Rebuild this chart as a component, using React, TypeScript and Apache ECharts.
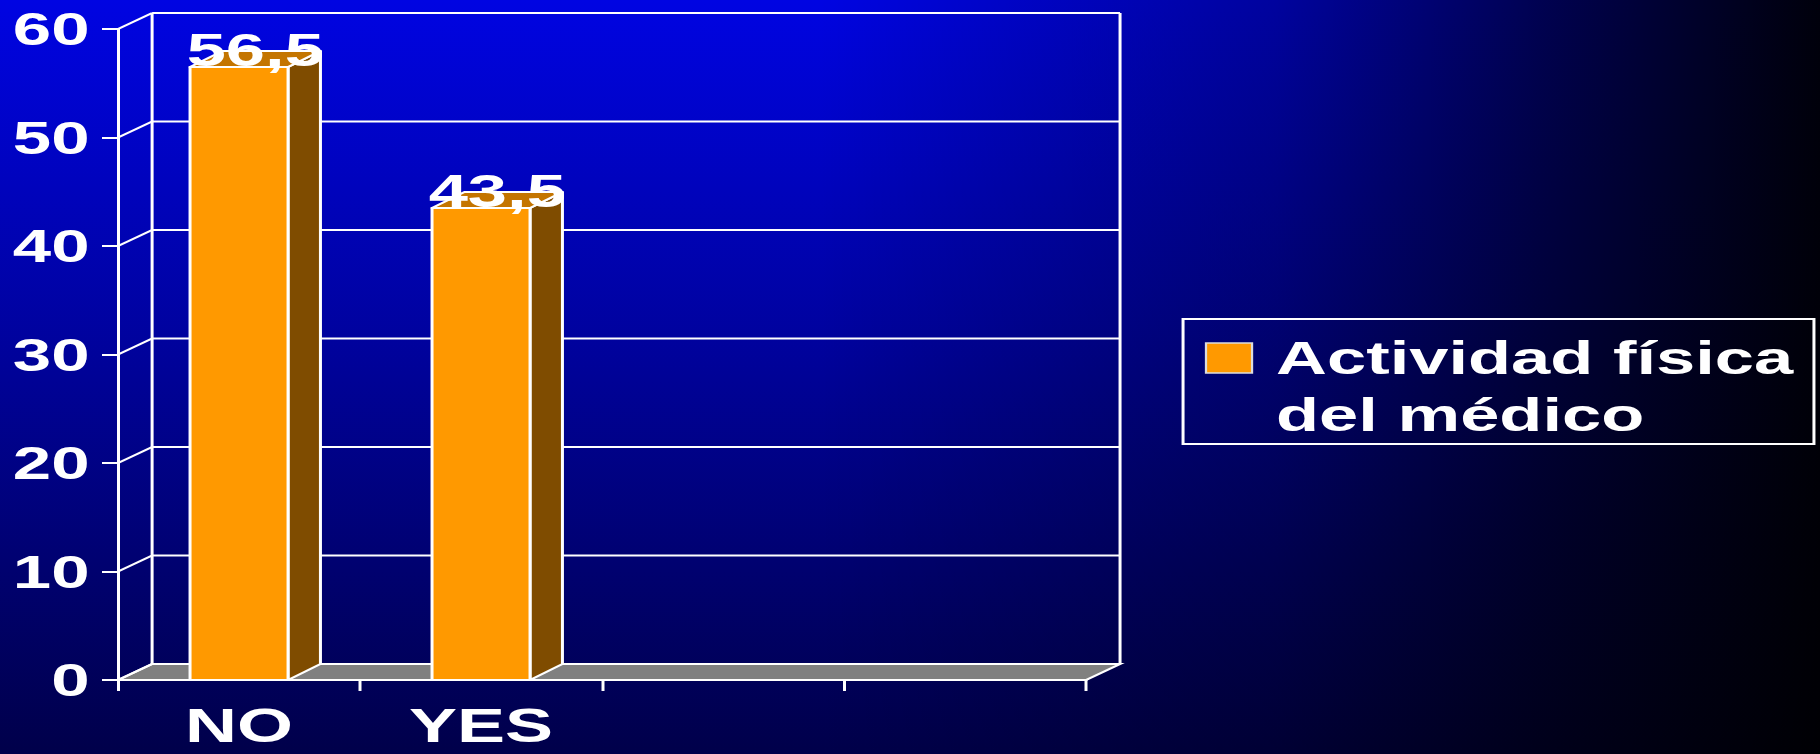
import React, { useEffect, useRef } from "react";
import * as echarts from "echarts";

// Chart data
const categories = ["NO", "YES", "", ""];
const values = [56.5, 43.5];
const yTicks = [0, 10, 20, 30, 40, 50, 60];
const legendLines = ["Actividad física", "del médico"];

// The slide is drawn narrow and widened horizontally, like the original deck
const STRETCH = 1.5;
const W = Math.ceil(1820 / STRETCH);
const H = 754;

// Pseudo-3D depth offsets
const WALL_DX = 22.7;
const WALL_DY = -16;
const BAR_DX = 21.6;
const BAR_DY = -16;

const FONT = "'Liberation Sans', Arial, Helvetica, sans-serif";
const WHITE = "#ffffff";
const FRONT = "#FF9900";
const SIDE = "#7F4C00";
const TOP = "#C47500";
const FLOOR = "#808080";

function renderWalls(params: any, api: any) {
  const cs = params.coordSys;
  const left = cs.x;
  const right = cs.x + cs.width;
  const y0 = api.coord([0, yTicks[0]])[1];
  const yTop = api.coord([0, yTicks[yTicks.length - 1]])[1];
  const line = (x1: number, y1: number, x2: number, y2: number) => ({
    type: "line",
    shape: { x1, y1, x2, y2 },
    style: { stroke: WHITE, lineWidth: 2 },
  });
  const children: any[] = [];
  children.push({
    type: "polygon",
    shape: {
      points: [
        [left, y0],
        [right, y0],
        [right + WALL_DX, y0 + WALL_DY],
        [left + WALL_DX, y0 + WALL_DY],
      ],
    },
    style: { fill: FLOOR, stroke: WHITE, lineWidth: 2 },
  });
  yTicks.forEach((v) => {
    const y = api.coord([0, v])[1];
    children.push(line(left, y, left + WALL_DX, y + WALL_DY));
    if (v !== yTicks[0]) {
      children.push(line(left + WALL_DX, y + WALL_DY, right + WALL_DX, y + WALL_DY));
    }
  });
  children.push(line(left + WALL_DX, yTop + WALL_DY, left + WALL_DX, y0 + WALL_DY));
  children.push(line(right + WALL_DX, yTop + WALL_DY, right + WALL_DX, y0 + WALL_DY));
  return { type: "group", children };
}

function renderBar(params: any, api: any) {
  const idx = api.value(0);
  const v = api.value(1);
  const p = api.coord([idx, v]);
  const cx = p[0];
  const top = p[1];
  const base = api.coord([idx, 0])[1];
  const w = api.size([1, 0])[0] * 0.405;
  const l = cx - w / 2;
  const r = cx + w / 2;
  const edge = { stroke: WHITE, lineWidth: 2, lineJoin: "round" };
  return {
    type: "group",
    children: [
      {
        type: "polygon",
        shape: {
          points: [
            [r, top],
            [r + BAR_DX, top + BAR_DY],
            [r + BAR_DX, base + BAR_DY],
            [r, base],
          ],
        },
        style: { fill: SIDE, ...edge },
      },
      {
        type: "polygon",
        shape: {
          points: [
            [l, top],
            [r, top],
            [r + BAR_DX, top + BAR_DY],
            [l + BAR_DX, top + BAR_DY],
          ],
        },
        style: { fill: TOP, ...edge },
      },
      {
        type: "rect",
        shape: { x: l, y: top, width: w, height: base - top },
        style: { fill: FRONT, ...edge },
      },
      {
        type: "text",
        x: cx + BAR_DX / 2,
        y: top + BAR_DY - 1,
        z2: 20,
        style: {
          text: v.toFixed(1).replace(".", ","),
          fill: WHITE,
          font: `bold 47px ${FONT}`,
          align: "center",
          verticalAlign: "middle",
        },
      },
    ],
  };
}

export default function App() {
  const ref = useRef<HTMLDivElement>(null);

  useEffect(() => {
    if (!ref.current) return;
    const chart = echarts.init(ref.current, null, { renderer: "svg" });
    const gridLeft = 78.7;
    const gridRight = W - 724;
    chart.setOption({
      animation: false,
      backgroundColor: new echarts.graphic.LinearGradient(0, 0, 0, 1, [
        { offset: 0, color: "#0004E2" },
        { offset: 1, color: "#00004A" },
      ]),
      grid: { left: gridLeft, right: gridRight, top: 29, bottom: 74, containLabel: false },
      xAxis: {
        type: "category",
        data: categories,
        boundaryGap: true,
        axisLine: { show: true, lineStyle: { color: WHITE, width: 2 } },
        axisTick: { show: true, length: 11, alignWithLabel: false, lineStyle: { color: WHITE, width: 2 } },
        axisLabel: {
          color: WHITE,
          fontFamily: FONT,
          fontWeight: "bold",
          fontSize: 48,
          lineHeight: 48,
          margin: 22,
          interval: 0,
          textShadowColor: "rgba(0,0,0,0.6)",
          textShadowOffsetX: 1.5,
          textShadowOffsetY: 1.5,
        },
        splitLine: { show: false },
      },
      yAxis: {
        type: "value",
        min: yTicks[0],
        max: yTicks[yTicks.length - 1],
        interval: 10,
        axisLine: { show: true, lineStyle: { color: WHITE, width: 2 } },
        axisTick: { show: true, length: 10.7, lineStyle: { color: WHITE, width: 2 } },
        axisLabel: {
          color: WHITE,
          fontFamily: FONT,
          fontWeight: "bold",
          fontSize: 46,
          margin: 19,
        },
        splitLine: { show: false },
      },
      graphic: [
        {
          type: "rect",
          z: -10,
          silent: true,
          shape: { x: 0, y: 0, width: W, height: H },
          style: {
            fill: new echarts.graphic.LinearGradient(0, 0, 1, 0, [
              { offset: 0, color: "rgba(0,0,0,0)" },
              { offset: 0.45, color: "rgba(0,0,0,0)" },
              { offset: 0.7, color: "rgba(0,0,0,0.3)" },
              { offset: 0.85, color: "rgba(0,0,0,0.65)" },
              { offset: 1, color: "rgba(0,0,0,0.95)" },
            ]),
          },
        },
        {
          type: "rect",
          z: 10,
          shape: { x: 788.7, y: 319, width: 420.6, height: 125 },
          style: { fill: "transparent", stroke: WHITE, lineWidth: 2 },
        },
        {
          type: "rect",
          z: 10,
          shape: { x: 804, y: 343, width: 30.7, height: 30 },
          style: { fill: FRONT, stroke: "#dddddd", lineWidth: 1.5 },
        },
        {
          type: "text",
          z: 10,
          x: 850.7,
          y: 386.5,
          style: {
            text: legendLines.join("\n"),
            fill: WHITE,
            font: `bold 47px ${FONT}`,
            lineHeight: 57,
            align: "left",
            verticalAlign: "middle",
          },
        },
      ],
      series: [
        {
          type: "custom",
          name: "walls",
          renderItem: renderWalls,
          data: [[0, 0]],
          encode: { x: 0, y: 1 },
          silent: true,
          z: 1,
        },
        {
          type: "custom",
          name: legendLines.join(" "),
          renderItem: renderBar,
          data: values.map((v, i) => [i, v]),
          encode: { x: 0, y: 1 },
          z: 3,
        },
      ],
    });
    return () => chart.dispose();
  }, []);

  return (
    <div
      ref={ref}
      style={{
        position: "fixed",
        left: 0,
        top: 0,
        width: W,
        height: H,
        transform: `scaleX(${STRETCH})`,
        transformOrigin: "0 0",
      }}
    />
  );
}
